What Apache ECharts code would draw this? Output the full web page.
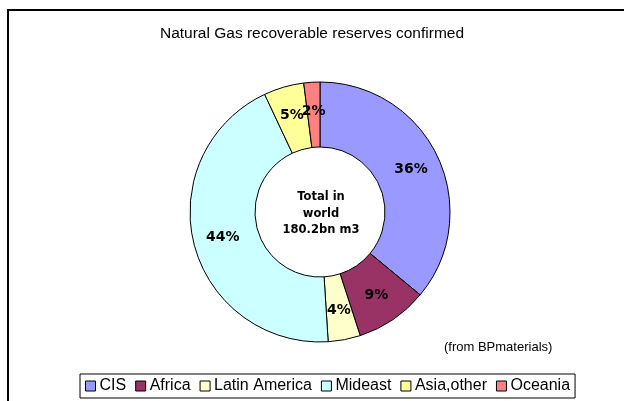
<!DOCTYPE html>
<html>
<head>
<meta charset="utf-8">
<script src="https://cdn.jsdelivr.net/npm/echarts@6/dist/echarts.min.js"></script>
<style>
  html, body { margin: 0; padding: 0; background: #fff; }
  #main { width: 624px; height: 401px; }
</style>
</head>
<body>
<div id="main"></div>
<script>
// regions and share of confirmed reserves (%)
var regions = ['CIS', 'Africa', 'Latin America', 'Mideast', 'Asia,other', 'Oceania'];
var shares = [36, 9, 4, 44, 5, 2];
var colors = ['#9999FF', '#993366', '#FFFFCC', '#CCFFFF', '#FFFF99', '#FF8080'];

var chart = echarts.init(document.getElementById('main'));

var pieData = regions.map(function (r, i) {
  return { name: r, value: shares[i], itemStyle: { color: colors[i] } };
});

chart.setOption({
  animation: false,
  title: {
    text: 'Natural Gas recoverable reserves confirmed',
    left: 'center',
    top: 21,
    textStyle: { fontFamily: 'Liberation Sans', fontSize: 15.5, fontWeight: 'normal', color: '#000' }
  },
  legend: {
    bottom: 3,
    left: 80,
    itemWidth: 10,
    itemHeight: 10,
    itemGap: 9,
    padding: [4, 5],
    icon: 'rect',
    borderColor: '#000',
    borderWidth: 1,
    backgroundColor: '#fff',
    itemStyle: { borderColor: '#000', borderWidth: 1 },
    textStyle: { fontFamily: 'Liberation Sans', fontSize: 16, color: '#000', padding: [0, 0, 0, -1] },
    data: regions
  },
  graphic: [
    {
      type: 'polyline',
      shape: { points: [[8, 405], [8, 10], [630, 10]] },
      style: { stroke: '#000', lineWidth: 2, fill: null }
    },
    {
      type: 'text',
      x: 321, y: 189,
      style: {
        text: 'Total in\nworld\n180.2bn m3',
        align: 'center',
        verticalAlign: 'top',
        font: 'bold 11.5px "DejaVu Sans"',
        lineHeight: 16.5,
        fill: '#000'
      }
    },
    {
      type: 'text',
      x: 444, y: 341,
      style: { text: '(from BPmaterials)', font: '13px "Liberation Sans"', fill: '#000' }
    }
  ],
  series: [{
    type: 'pie',
    center: [320, 212],
    radius: [65, 130],
    startAngle: 90,
    clockwise: true,
    avoidLabelOverlap: false,
    minShowLabelAngle: 0,
    legendHoverLink: false,
    itemStyle: { borderColor: '#000', borderWidth: 1 },
    label: {
      position: 'inside',
      formatter: '{c}%',
      fontFamily: 'DejaVu Sans',
      fontWeight: 'bold',
      fontSize: 14,
      color: '#000'
    },
    labelLayout: { hideOverlap: false },
    labelLine: { show: false },
    data: pieData
  }]
});
</script>
</body>
</html>
